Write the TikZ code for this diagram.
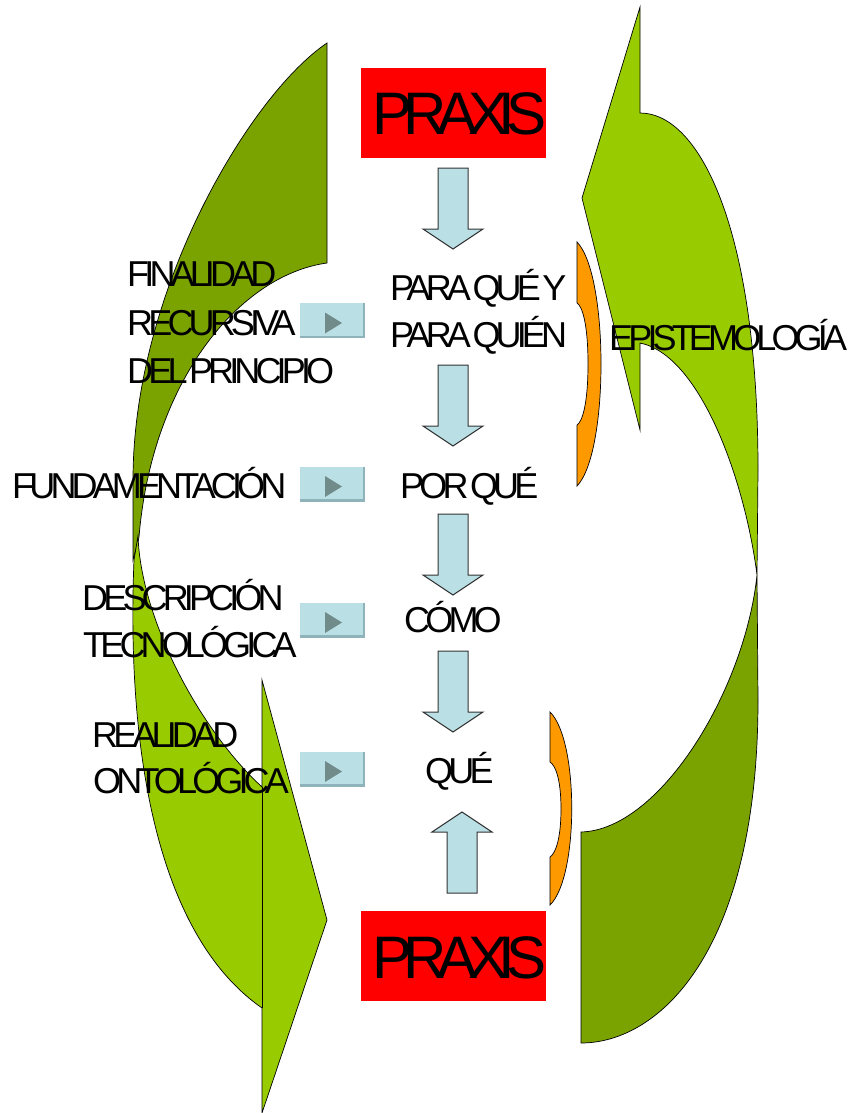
\documentclass[tikz,border=0pt]{standalone}
\usepackage{fontspec}
\setmainfont{Liberation Sans}
\newfontfamily\lblfont[LetterSpace=-13.5,WordSpace=0.3]{Liberation Sans}
\newfontfamily\praxfont[LetterSpace=-15.3]{Liberation Sans}

\definecolor{leafgreen}{HTML}{99CC00}
\definecolor{leafdark}{HTML}{7AA300}
\definecolor{braceorange}{HTML}{FF9900}
\definecolor{flowblue}{HTML}{BADFE4}
\definecolor{btnedge}{HTML}{8FB3BA}
\definecolor{btnmark}{HTML}{718B8B}

\tikzset{
  leaf/.style={fill=leafgreen,draw=black,line width=0.7pt,line join=miter},
  leafback/.style={fill=leafdark,draw=black,line width=0.7pt,line join=miter},
  bracefill/.style={fill=braceorange,draw=black,line width=0.7pt},
  blockarrow/.style={fill=flowblue,draw=black!80,line width=1pt,line join=miter},
  redbox/.style={fill=red,draw=none,minimum width=185pt,minimum height=90pt,inner sep=0pt},
  lbl/.style={font=\lblfont\fontsize{36}{40}\selectfont,inner sep=0pt,anchor=base west},
  prx/.style={font=\praxfont\fontsize{60}{64}\selectfont,inner sep=0pt,anchor=base west},
  downarrow/.pic={\path[blockarrow] (-15,0) -- (15,0) -- (15,61) -- (30,61) -- (0,81)
                   -- (-30,61) -- (-15,61) -- cycle;},
  playbtn/.pic={
    \fill[flowblue] (-32.5,-17.5) rectangle (32.5,17.5);
    \fill[btnedge] (-32.5,15) rectangle (32.5,17.5);
    \fill[btnedge] (30.5,-17.5) rectangle (32.5,17.5);
    \fill[btnmark] (-7.5,-8) -- (9.5,2.5) -- (-7.5,13) -- cycle;}
}

\begin{document}
\begin{tikzpicture}[x=1pt,y=-1pt]
\fill[white] (0,0) rectangle (851,1113);
\useasboundingbox (0,0) rectangle (851,1113);

% ---- left curved arrow: back face, then front face with head pointing right
\path[leafback] (327,43) -- (327,263)
  .. controls (240,275) and (152,380) .. (139,537)
  -- (133,560) -- (133,480)
  .. controls (133,290) and (250,95) .. (327,43) -- cycle;
\path[leaf] (138,536)
  .. controls (141,620) and (200,730) .. (262,787)
  -- (262,680) -- (327,920) -- (262,1113) -- (262,1008)
  .. controls (150,930) and (127,730) .. (134,560) -- cycle;
\draw[black,line width=0.7pt] (262,787) -- (262,1008);

% ---- right curved arrow: front face with head pointing left, back face below
\path[leaf] (640,343) -- (640,430) -- (582,198) -- (640,7) -- (640,113)
  .. controls (700,113) and (758,230) .. (758,470)
  -- (757,575)
  .. controls (745,480) and (700,355) .. (640,343) -- cycle;
\path[leafback] (581,832) -- (581,1043)
  .. controls (660,1043) and (758,950) .. (758,700)
  -- (757,575)
  .. controls (745,690) and (660,830) .. (581,832) -- cycle;

% ---- orange braces
\path[bracefill] (577,242) .. controls (609,275) and (609,453) .. (577,486)
  -- (577,425) .. controls (582,422) and (588,405) .. (588,364)
  .. controls (588,323) and (582,306) .. (577,303) -- cycle;
\path[bracefill] (550,712) .. controls (579,740) and (579,877) .. (550,905)
  -- (550,857) .. controls (555,854) and (561,840) .. (561,809)
  .. controls (561,778) and (555,765) .. (550,762) -- cycle;

% ---- PRAXIS boxes
\node[redbox] (praxisTop) at (453.5,113) {};
\node[redbox] (praxisBot) at (453.5,956) {};
\node[prx] (praxisTopTxt) at (372,135) {PRAXIS};
\node[prx] (praxisBotTxt) at (372,978) {PRAXIS};

% ---- central column of steps
\node[lbl] (q1a) at (390,300) {PARA QUÉ Y};
\node[lbl] (q1b) at (390,347) {PARA QUIÉN};
\node[lbl] (q2) at (400,498) {POR QUÉ};
\node[lbl] (q3) at (404,632) {CÓMO};
\node[lbl] (q4) at (425,783) {QUÉ};

\pic at (453,168) {downarrow};
\pic at (453,365) {downarrow};
\pic at (453,514) {downarrow};
\pic at (453,651) {downarrow};
\pic[rotate=180] at (462,893) {downarrow};

% ---- side labels
\node[lbl] (fin1) at (127,286) {FINALIDAD};
\node[lbl] (fin2) at (127,335) {RECURSIVA};
\node[lbl] (fin3) at (127,383) {DEL PRINCIPIO};
\node[lbl] (fund) at (12,498) {FUNDAMENTACIÓN};
\node[lbl] (desc1) at (82,610) {DESCRIPCIÓN};
\node[lbl] (desc2) at (83,657) {TECNOLÓGICA};
\node[lbl] (real1) at (92,747) {REALIDAD};
\node[lbl] (real2) at (93,793) {ONTOLÓGICA};
\node[lbl] (epis) at (609,350) {EPISTEMOLOGÍA};

% ---- play buttons
\pic at (332.5,320.5) {playbtn};
\pic at (332.5,484) {playbtn};
\pic at (332.5,620) {playbtn};
\pic at (332.5,769) {playbtn};
\end{tikzpicture}
\end{document}
